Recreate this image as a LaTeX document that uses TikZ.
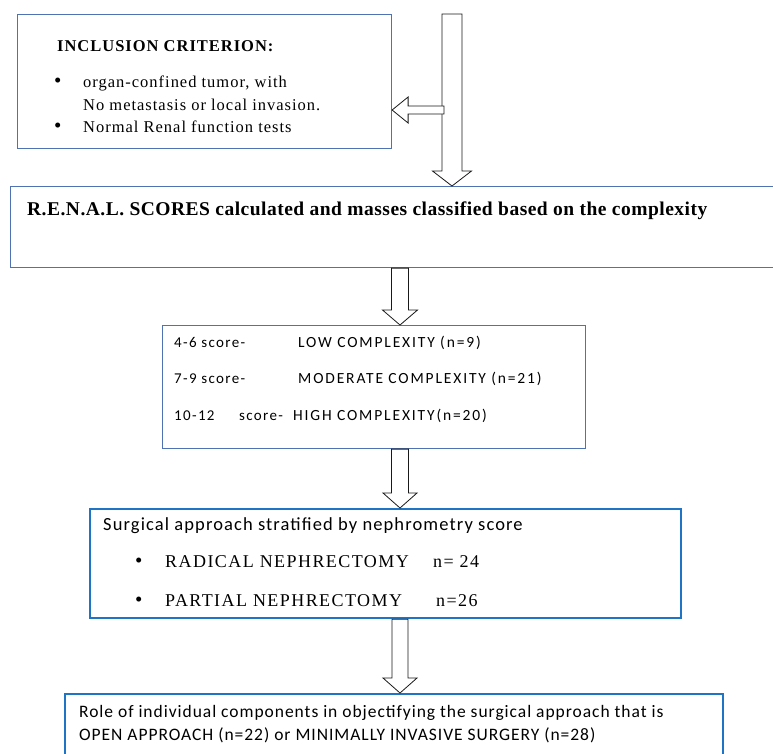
\documentclass[tikz,border=0pt]{standalone}
\usepackage{fontspec}
\setmainfont{Liberation Serif}
\newfontfamily\wordserif[LetterSpace=6]{Liberation Serif}
\newfontfamily\wordsans[LetterSpace=6]{Carlito}
\usetikzlibrary{calc}
\definecolor{thinblue}{RGB}{79,114,180}
\definecolor{boldblue}{RGB}{31,117,196}

% hollow block arrow pointing down: x, from, to, half shaft, half head
\newcommand{\fatdown}[5]{%
  \draw [block] let \p1 = (#2), \p2 = (#3) in
    ({#1pt-#4pt}, \y1) -- ({#1pt-#4pt}, \y2+15pt) -- ({#1pt-#5pt}, \y2+15pt) -- (#1pt, \y2)
    -- ({#1pt+#5pt}, \y2+15pt) -- ({#1pt+#4pt}, \y2+15pt) -- ({#1pt+#4pt}, \y1) -- cycle;
}

\begin{document}
\begin{tikzpicture}[x=1pt, y=-1pt,
    thinbox/.style={draw=thinblue, line width=1.1pt, rectangle, inner sep=0pt, anchor=north west},
    boldbox/.style={draw=boldblue, line width=2.2pt, rectangle, inner sep=0pt, anchor=north west},
    block/.style={draw=black!90, fill=white, line width=0.8pt},
    txt/.style={inner sep=0pt, anchor=base west},
    dot/.style={txt, font=\fontsize{21}{22}\selectfont},
    crit/.style={txt, font=\wordserif\fontsize{16.5}{20}\selectfont},
    renal/.style={txt, font=\addfontfeature{LetterSpace=2.5}\fontsize{19.5}{22}\selectfont\bfseries},
    grade/.style={txt, font=\wordsans\addfontfeature{LetterSpace=9}\fontsize{15}{18}\selectfont},
    gradecap/.style={txt, font=\wordsans\addfontfeature{LetterSpace=12}\fontsize{15.5}{18}\selectfont},
    surg/.style={txt, font=\wordsans\fontsize{18.5}{22}\selectfont},
    nephr/.style={txt, font=\wordserif\addfontfeature{LetterSpace=8}\fontsize{18}{22}\selectfont},
    role/.style={txt, font=\wordsans\addfontfeature{LetterSpace=5.5}\fontsize{17.5}{20}\selectfont}]

      % page size
      \useasboundingbox (0, 0) rectangle (773, 753);

      % inclusion box
      \node [thinbox, minimum width=374pt, minimum height=134pt, name=incl] at (17, 14) {};
      \node [crit, name=incl_head] at (57, 51) {\bfseries INCLUSION CRITERION:};
      \node [dot, name=incl_dot1] at (54, 87) {\textbullet};
      \node [crit, name=incl_l1] at (83, 87) {organ-confined tumor, with};
      \node [crit, name=incl_l2] at (83, 110) {No metastasis or local invasion.};
      \node [dot, name=incl_dot2] at (54, 132) {\textbullet};
      \node [crit, name=incl_l3] at (83, 132) {Normal Renal function tests};

      % renal score box
      \node [thinbox, minimum width=790pt, minimum height=81pt, name=renal] at (10, 186) {};
      \node [renal, name=renal_text] at (27, 215) {R.E.N.A.L. SCORES calculated and masses classified based on the complexity};

      % complexity box
      \node [thinbox, minimum width=423pt, minimum height=123pt, name=grade] at (162, 325) {};
      \node [grade, name=low_s] at (174, 347) {4-6 score-};
      \node [gradecap, name=low_c] at (298, 347) {LOW COMPLEXITY (n=9)};
      \node [grade, name=mod_s] at (174, 383) {7-9 score-};
      \node [gradecap, name=mod_c] at (298, 383) {MODERATE COMPLEXITY (n=21)};
      \node [grade, name=high_n] at (174, 420) {10-12};
      \node [grade, name=high_s] at (239, 420) {score-};
      \node [gradecap, name=high_c] at (293, 420) {HIGH COMPLEXITY(n=20)};

      % surgical approach box
      \node [boldbox, minimum width=591pt, minimum height=109pt, name=surg] at (89, 508) {};
      \node [surg, name=surg_head] at (103, 530) {Surgical approach stratified by nephrometry score};
      \node [dot, name=rad_dot] at (135, 567) {\textbullet};
      \node [nephr, name=rad] at (165, 567) {RADICAL NEPHRECTOMY};
      \node [nephr, name=rad_n] at (433, 567) {n= 24};
      \node [dot, name=part_dot] at (135, 606) {\textbullet};
      \node [nephr, name=part] at (165, 606) {PARTIAL NEPHRECTOMY};
      \node [nephr, name=part_n] at (436, 606) {n=26};

      % role box
      \node [boldbox, minimum width=658pt, minimum height=80pt, name=role] at (64, 693) {};
      \node [role, name=role_l1] at (79, 717) {Role of individual components in objectifying the surgical approach that is};
      \node [role, name=role_l2] at (79, 740) {OPEN APPROACH (n=22) or MINIMALLY INVASIVE SURGERY (n=28)};

      % arrows
      \coordinate (top_in) at (452, 14);
      \coordinate (side_in) at (444, 110);
      \fatdown{452}{top_in}{renal.north}{10}{19.5}
      \draw [block] let \p1 = (side_in), \p2 = (incl.east) in
        (\x1, \y1+4pt) -- (\x2+16pt, \y1+4pt) -- (\x2+16pt, \y1+13pt) -- (\x2, \y1)
        -- (\x2+16pt, \y1-13pt) -- (\x2+16pt, \y1-4pt) -- (\x1, \y1-4pt) -- cycle;
      \fatdown{400}{renal.south}{grade.north}{8.5}{17.5}
      \fatdown{400}{grade.south}{surg.north}{8.5}{17}
      \fatdown{400}{surg.south}{role.north}{8}{17}

\end{tikzpicture}
\end{document}
